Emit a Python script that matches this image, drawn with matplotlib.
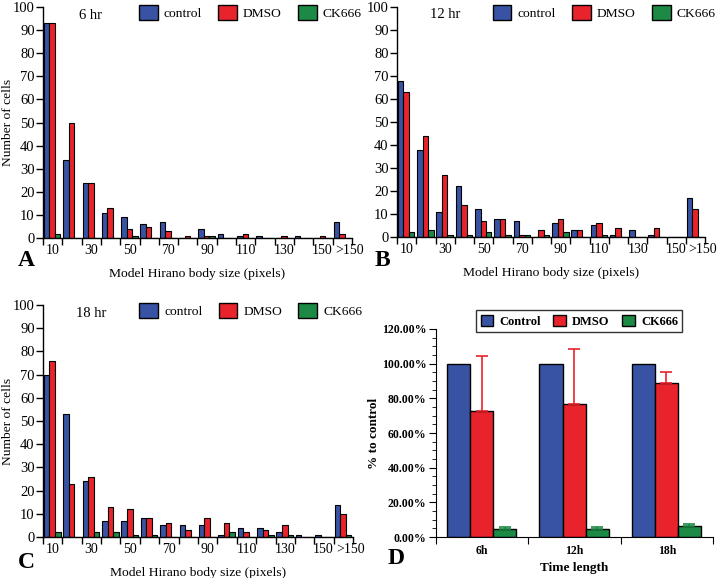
import numpy as np
import matplotlib
matplotlib.use('Agg')
import matplotlib.pyplot as plt
from matplotlib.patches import Patch

plt.rcParams['font.family'] = ['Liberation Serif', 'DejaVu Serif']

# histogram bins (Hirano body size)
bins = ['10', '20', '30', '40', '50', '60', '70', '80', '90', '100',
        '110', '120', '130', '140', '150', '>150']
shown = ['10', '30', '50', '70', '90', '110', '130', '150', '>150']

ctrl_6 = [93, 34, 24, 11, 9, 6, 7, 0, 4, 2, 1, 1, 0, 1, 0, 7]
dmso_6 = [93, 50, 24, 13, 4, 5, 3, 1, 1, 0, 2, 0, 1, 0, 1, 2]
ck_6 = [2, 0, 0, 0, 1, 0, 0, 0, 1, 0, 0, 0, 0, 0, 0, 0]

ctrl_12 = [68, 38, 11, 22, 12, 8, 7, 0, 6, 3, 5, 1, 3, 1, 0, 17]
dmso_12 = [63, 44, 27, 14, 7, 8, 1, 3, 8, 3, 6, 4, 0, 4, 0, 12]
ck_12 = [2, 3, 1, 1, 2, 1, 1, 1, 2, 0, 1, 0, 0, 0, 0, 0]

ctrl_18 = [70, 53, 24, 7, 7, 8, 5, 5, 5, 1, 4, 4, 2, 1, 1, 14]
dmso_18 = [76, 23, 26, 13, 12, 8, 6, 3, 8, 6, 2, 3, 5, 0, 0, 10]
ck_18 = [2, 0, 2, 2, 1, 1, 0, 0, 0, 2, 0, 1, 1, 0, 0, 1]

# panel D
times = ['6h', '12h', '18h']
ctrl_pct = [100, 100, 100]
dmso_pct = [72.7, 76.5, 89.0]
dmso_err = [31.7, 32.0, 6.4]
ck_pct = [4.6, 4.6, 6.5]
ck_err = [1.3, 1.3, 1.2]

BLUE = '#3953a4'
RED = '#e8232b'
GREEN = '#1c8a45'


def hist_panel(ax, c, d, k, title, ylabel=True):
    x = np.arange(len(bins))
    w = 0.285
    for j, (vals, col) in enumerate([(c, BLUE), (d, RED), (k, GREEN)]):
        ax.bar(x + 0.05 + j * w, vals, w, align='edge', color=col,
               edgecolor='black', linewidth=0.8)
    ax.set_xlim(0, len(bins))
    ax.set_ylim(0, 100)
    ax.set_yticks(range(0, 101, 10))
    ax.set_xticks(np.arange(len(bins) + 1))
    ax.set_xticklabels([])
    # label spots: group centres, the last one nudged right as in the figure
    pos = [i + 0.5 for i, b in enumerate(bins) if b in shown]
    pos[-2] -= 0.02
    pos[-1] += 0.37
    ax.set_xticks(pos, minor=True)
    ax.set_xticklabels(shown, minor=True)
    ax.tick_params(axis='x', which='minor', length=0, labelsize=10, pad=4)
    ax.tick_params(axis='x', which='major', length=5, width=1)
    ax.tick_params(axis='y', length=5, width=1, labelsize=10.5, pad=1)
    for s in ['top', 'right']:
        ax.spines[s].set_visible(False)
    for s in ['left', 'bottom']:
        ax.spines[s].set_linewidth(1)
    ax.set_xlabel('Model Hirano body size (pixels)', fontsize=9.7, labelpad=8)
    if ylabel:
        ax.set_ylabel('Number of cells', fontsize=9.7)
        ax.yaxis.set_label_coords(-0.095, 0.5)
    ax.text(0.155, 0.965, title, transform=ax.transAxes, fontsize=10.5,
            ha='center', va='center')
    handles = [Patch(facecolor=BLUE, edgecolor='black', label='control'),
               Patch(facecolor=RED, edgecolor='black', label='DMSO'),
               Patch(facecolor=GREEN, edgecolor='black', label='CK666')]
    ax.legend(handles=handles, ncol=3, loc='upper left', bbox_to_anchor=(0.31, 1.01),
              frameon=False, fontsize=9.7, handlelength=1.4, handleheight=1.4,
              handletextpad=0.45, columnspacing=1.2, borderpad=0, borderaxespad=0)


fig = plt.figure(figsize=(7.2, 5.78), dpi=100)

axA = fig.add_axes([0.0597, 0.588, 0.429, 0.400])
hist_panel(axA, ctrl_6, dmso_6, ck_6, '6 hr')

axB = fig.add_axes([0.5514, 0.590, 0.428, 0.398])
hist_panel(axB, ctrl_12, dmso_12, ck_12, '12 hr', ylabel=False)

axC = fig.add_axes([0.0597, 0.0709, 0.4306, 0.4014])
hist_panel(axC, ctrl_18, dmso_18, ck_18, '18 hr')

# panel D
axD = fig.add_axes([0.6056, 0.0709, 0.3847, 0.3599])
xd = np.arange(len(times))
wd = 0.25
axD.bar(xd + 0.12, ctrl_pct, wd, align='edge', color=BLUE, edgecolor='black', linewidth=1)
axD.bar(xd + 0.12 + wd, dmso_pct, wd, align='edge', color=RED, edgecolor='black', linewidth=1)
axD.bar(xd + 0.12 + 2 * wd, ck_pct, wd, align='edge', color=GREEN, edgecolor='black', linewidth=1)
axD.errorbar(xd + 0.12 + 1.5 * wd, dmso_pct, yerr=[[0] * 3, dmso_err], fmt='none',
             ecolor=RED, elinewidth=1.2, capsize=4, capthick=1.2)
axD.errorbar(xd + 0.12 + 2.5 * wd, ck_pct, yerr=[[0] * 3, ck_err], fmt='none',
             ecolor=GREEN, elinewidth=1.2, capsize=4, capthick=1.2)
axD.set_xlim(0, 3)
axD.set_ylim(0, 120)
axD.set_yticks(range(0, 121, 20))
axD.set_yticks(range(0, 121, 5), minor=True)
axD.set_yticklabels(['%.2f%%' % v for v in range(0, 121, 20)], fontweight='bold', fontsize=8.5)
axD.set_xticks([0, 1, 2, 3])
axD.set_xticklabels([])
axD.set_xticks(xd + 0.5, minor=True)
axD.set_xticklabels(times, minor=True, fontweight='bold', fontsize=8.5)
axD.tick_params(axis='x', which='minor', length=0, pad=6)
axD.tick_params(axis='x', which='major', length=5)
axD.tick_params(axis='y', which='major', length=5, pad=2)
axD.tick_params(axis='y', which='minor', length=3)
for s in ['top', 'right']:
    axD.spines[s].set_visible(False)
axD.set_xlabel('Time length', fontweight='bold', fontsize=9.5, labelpad=3)
axD.set_ylabel('% to control', fontweight='bold', fontsize=9.5, labelpad=1)
hd = [Patch(facecolor=BLUE, edgecolor='black', label='Control'),
      Patch(facecolor=RED, edgecolor='black', label='DMSO'),
      Patch(facecolor=GREEN, edgecolor='black', label='CK666')]
legD = axD.legend(handles=hd, ncol=3, loc='upper left', bbox_to_anchor=(0.123, 1.12),
                  frameon=True, fancybox=False, edgecolor='black',
                  prop={'weight': 'bold', 'size': 9},
                  handlelength=1.0, handleheight=1.0, handletextpad=0.5,
                  columnspacing=1.0, borderpad=0.35)
legD.get_frame().set_linewidth(1)

# panel letters
for lbl, x, y in [('A', 0.025, 0.55), ('B', 0.52, 0.55), ('C', 0.025, 0.027), ('D', 0.538, 0.033)]:
    fig.text(x, y, lbl, fontsize=17, fontweight='bold', ha='left', va='center')

fig.savefig('out.png', dpi=100)
